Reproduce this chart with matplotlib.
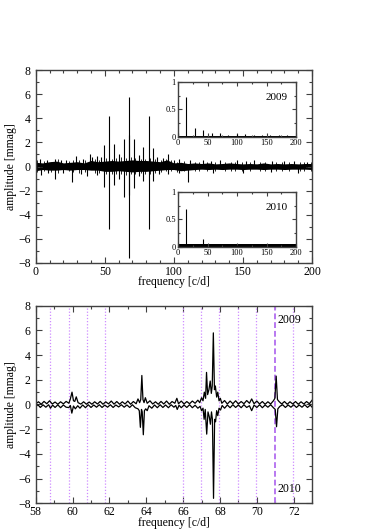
import matplotlib
matplotlib.use('Agg')
import matplotlib.pyplot as plt
from matplotlib.ticker import MultipleLocator

plt.rcParams['font.family'] = 'serif'
plt.rcParams['font.serif'] = ['Liberation Serif', 'DejaVu Serif']

# ---- top panel: full amplitude spectra (2009 up, 2010 mirrored down)
env_freq = list(range(0, 201, 5))
env_2009 = [0.35, 0.30, 0.40, 0.45, 0.30, 0.35, 0.40, 0.30, 0.50, 0.40, 0.45,
            0.50, 0.45, 0.50, 0.55, 0.50, 0.50, 0.45, 0.40, 0.55, 0.30, 0.35,
            0.25, 0.30, 0.25, 0.30, 0.22, 0.25, 0.30, 0.25, 0.22, 0.25, 0.22,
            0.30, 0.22, 0.25, 0.22, 0.25, 0.22, 0.25, 0.25]
env_2010 = [0.35, 0.25, 0.30, 0.30, 0.25, 0.30, 0.25, 0.25, 0.30, 0.30, 0.40,
            0.40, 0.35, 0.40, 0.45, 0.40, 0.40, 0.35, 0.30, 0.25, 0.25, 0.35,
            0.30, 0.25, 0.22, 0.25, 0.22, 0.25, 0.22, 0.22, 0.25, 0.22, 0.22,
            0.25, 0.22, 0.22, 0.25, 0.22, 0.22, 0.22, 0.25]

peaks_2009_f = [3, 8, 14, 18, 22, 29, 34, 39, 41, 44, 47, 49.4, 53.2, 56.9, 60.2,
                63.6, 67.3, 67.6, 70.9, 74.4, 77.6, 81.7, 84.8, 88, 92, 95.8,
                100, 104, 112, 121, 127, 133, 146, 152, 158, 171, 180, 187, 196]
peaks_2009_a = [0.6, 0.5, 0.65, 0.55, 0.5, 0.9, 0.6, 1.05, 0.8, 0.85, 0.8, 1.75,
                4.2, 1.9, 1.0, 2.3, 2.6, 5.8, 2.3, 0.95, 1.65, 4.2, 1.55, 0.8,
                0.7, 1.0, 0.5, 0.6, 0.55, 0.5, 0.45, 0.5, 0.5, 0.45, 0.55, 0.45,
                0.45, 0.45, 0.4]
peaks_2010_f = [4, 9, 14, 20, 26, 33, 37, 44, 49.4, 53.2, 56.9, 60.2, 63.6,
                67.3, 67.6, 70.9, 74.4, 77.6, 81.7, 84.8, 89, 96, 104, 110, 128,
                150, 170, 190]
peaks_2010_a = [0.7, 0.5, 1.0, 0.5, 1.3, 0.6, 0.75, 0.7, 1.7, 5.2, 1.5, 1.0,
                2.5, 2.4, 7.6, 1.8, 0.8, 1.2, 5.2, 1.2, 0.6, 0.6, 0.5, 1.3, 0.5,
                0.5, 0.45, 0.5]
# small noise spikes
spikes_f = [1, 6, 11, 16, 24, 27, 31, 36, 43, 46, 51, 55, 58, 62, 65, 69, 72,
            76, 79, 83, 86, 91, 94, 98, 102, 107, 115, 118, 124, 130, 137, 141,
            144, 149, 155, 162, 166, 174, 178, 183, 191, 194, 199]
spikes_up = [0.5, 0.45, 0.4, 0.6, 0.45, 0.5, 0.5, 0.55, 0.6, 0.55, 0.7, 0.65,
             0.7, 0.75, 0.7, 0.8, 0.7, 0.6, 0.65, 0.7, 0.6, 0.55, 0.6, 0.5,
             0.4, 0.45, 0.4, 0.35, 0.4, 0.35, 0.4, 0.35, 0.4, 0.35, 0.35, 0.4,
             0.35, 0.4, 0.35, 0.35, 0.4, 0.35, 0.4]
spikes_dn = [0.45, 0.4, 0.45, 0.5, 0.4, 0.45, 0.5, 0.45, 0.55, 0.5, 0.6, 0.6,
             0.65, 0.65, 0.7, 0.6, 0.6, 0.55, 0.6, 0.6, 0.5, 0.45, 0.4, 0.4,
             0.45, 0.4, 0.35, 0.4, 0.35, 0.35, 0.4, 0.35, 0.35, 0.4, 0.35, 0.35,
             0.4, 0.35, 0.35, 0.4, 0.35, 0.35, 0.35]

# ---- insets: spectral windows
win_2009_f = [0.5, 14.2, 28.4, 42.6, 56.8, 71.0, 85.2, 99.4, 113.6, 127.8,
              142.0, 156.2, 170.4, 184.6]
win_2009_a = [0.08, 0.72, 0.17, 0.12, 0.07, 0.07, 0.04, 0.05, 0.05, 0.03,
              0.03, 0.03, 0.03, 0.03]
win_2009_base = 0.02
win_2010_f = [0.5, 14.2, 28.4, 42.6, 56.8, 71.0, 99.4, 127.8, 156.2]
win_2010_a = [0.06, 0.68, 0.06, 0.15, 0.05, 0.05, 0.04, 0.04, 0.04]
win_2010_base = 0.045

# ---- bottom panel: zoom 58-73 c/d
z09_f = [58.00, 58.15, 58.30, 58.45, 58.60, 58.75, 58.90, 59.05, 59.20, 59.35,
         59.50, 59.65, 59.80, 59.88, 59.97, 60.05, 60.12, 60.20, 60.30, 60.45,
         60.60, 60.75, 60.90, 61.05, 61.20, 61.35, 61.50, 61.65, 61.80, 61.95,
         62.10, 62.25, 62.40, 62.55, 62.70, 62.85, 63.00, 63.15, 63.30, 63.45,
         63.55, 63.64, 63.70, 63.76, 63.82, 63.88, 63.95, 64.05, 64.20, 64.35,
         64.50, 64.65, 64.80, 64.95, 65.10, 65.25, 65.40, 65.55, 65.66, 65.75,
         65.90, 66.05, 66.20, 66.35, 66.50, 66.65, 66.80, 66.90, 67.00, 67.08,
         67.15, 67.22, 67.27, 67.33, 67.40, 67.47, 67.53, 67.58, 67.64, 67.70,
         67.75, 67.82, 67.88, 67.95, 68.02, 68.10, 68.25, 68.40, 68.55, 68.70,
         68.85, 69.00, 69.15, 69.30, 69.45, 69.60, 69.72, 69.85, 70.00, 70.15,
         70.30, 70.45, 70.60, 70.75, 70.90, 70.98, 71.05, 71.12, 71.20, 71.35,
         71.50, 71.65, 71.80, 71.95, 72.10, 72.25, 72.40, 72.55, 72.70, 72.85,
         73.00]
z09_a = [0.05, 0.22, 0.02, 0.25, 0.06, 0.30, 0.04, 0.20, 0.02, 0.22,
         0.05, 0.25, 0.10, 0.45, 1.00, 0.30, 0.25, 0.62, 0.15, 0.03,
         0.22, 0.02, 0.20, 0.02, 0.22, 0.04, 0.25, 0.02, 0.22, 0.05,
         0.28, 0.03, 0.24, 0.02, 0.22, 0.04, 0.28, 0.02, 0.24, 0.06,
         0.45, 0.15, 0.40, 2.35, 0.40, 0.15, 0.55, 0.10, 0.30, 0.04,
         0.22, 0.02, 0.25, 0.04, 0.28, 0.02, 0.24, 0.10, 0.50, 0.06,
         0.28, 0.04, 0.24, 0.06, 0.28, 0.10, 0.35, 0.15, 0.55, 0.30,
         1.00, 0.50, 2.60, 0.80, 1.20, 1.90, 0.90, 1.50, 5.80, 1.20,
         1.50, 0.60, 1.00, 0.30, 0.50, 0.10, 0.32, 0.04, 0.28, 0.06,
         0.30, 0.04, 0.24, 0.06, 0.32, 0.10, 0.45, 0.06, 0.28, 0.04,
         0.24, 0.02, 0.22, 0.04, 0.30, 0.50, 2.30, 0.40, 0.25, 0.04,
         0.24, 0.02, 0.22, 0.04, 0.24, 0.02, 0.22, 0.04, 0.24, 0.06,
         0.35]
z10_f = [58.00, 58.12, 58.25, 58.40, 58.55, 58.70, 58.80, 58.92, 59.05, 59.20,
         59.35, 59.50, 59.65, 59.80, 59.88, 59.96, 60.05, 60.15, 60.28, 60.40,
         60.55, 60.70, 60.85, 61.00, 61.15, 61.30, 61.45, 61.60, 61.75, 61.90,
         62.05, 62.20, 62.35, 62.50, 62.65, 62.80, 62.95, 63.10, 63.25, 63.40,
         63.55, 63.62, 63.68, 63.74, 63.78, 63.84, 63.90, 63.97, 64.05, 64.15,
         64.30, 64.45, 64.60, 64.75, 64.90, 65.05, 65.20, 65.35, 65.50, 65.60,
         65.68, 65.78, 65.90, 66.05, 66.20, 66.35, 66.50, 66.65, 66.80, 66.92,
         67.00, 67.08, 67.14, 67.20, 67.28, 67.35, 67.42, 67.48, 67.54, 67.59,
         67.65, 67.71, 67.76, 67.82, 67.88, 67.95, 68.03, 68.12, 68.25, 68.40,
         68.55, 68.70, 68.85, 69.00, 69.15, 69.30, 69.45, 69.60, 69.72, 69.85,
         70.00, 70.15, 70.30, 70.45, 70.60, 70.75, 70.90, 71.00, 71.07, 71.14,
         71.25, 71.40, 71.55, 71.70, 71.85, 72.00, 72.15, 72.30, 72.45, 72.60,
         72.75, 72.90, 73.00]
z10_a = [0.18, 0.02, 0.24, 0.03, 0.22, 0.02, 0.30, 0.05, 0.24, 0.03,
         0.26, 0.04, 0.22, 0.25, 0.08, 0.70, 0.12, 0.35, 0.10, 0.30,
         0.04, 0.26, 0.02, 0.24, 0.04, 0.22, 0.02, 0.24, 0.05, 0.22,
         0.02, 0.24, 0.04, 0.20, 0.02, 0.22, 0.04, 0.24, 0.02, 0.26,
         0.35, 0.50, 1.85, 0.40, 0.60, 2.45, 0.50, 0.35, 0.50, 0.10,
         0.30, 0.04, 0.26, 0.02, 0.24, 0.04, 0.26, 0.02, 0.22, 0.08,
         0.40, 0.06, 0.26, 0.04, 0.24, 0.02, 0.26, 0.06, 0.30, 0.15,
         0.50, 0.30, 1.20, 0.40, 2.40, 0.60, 1.00, 1.60, 0.60, 1.20,
         7.60, 1.20, 1.40, 0.50, 0.90, 0.30, 0.45, 0.08, 0.30, 0.04,
         0.26, 0.02, 0.24, 0.04, 0.26, 0.02, 0.24, 0.10, 0.50, 0.05,
         0.24, 0.02, 0.26, 0.04, 0.22, 0.02, 0.26, 0.40, 1.80, 0.35,
         0.15, 0.02, 0.24, 0.04, 0.22, 0.02, 0.24, 0.04, 0.22, 0.02,
         0.24, 0.05, 0.22]
combo_dotted = [58.78, 59.78, 60.78, 61.78, 65.97, 66.97, 67.97, 68.97, 69.97, 71.97]
combo_dashed = [70.97]

frame_col = '0.25'


def style_axes(ax, size=8.5, major=4, minor=2):
    for sp in ax.spines.values():
        sp.set_color(frame_col)
        sp.set_linewidth(1.0)
    ax.tick_params(which='both', direction='in', top=True, right=True,
                   colors=frame_col, labelcolor='black', labelsize=size)
    ax.tick_params(which='major', length=major, width=0.8)
    ax.tick_params(which='minor', length=minor, width=0.8)


fig = plt.figure(figsize=(3.74, 5.30), dpi=100)

# top panel
ax1 = fig.add_axes([0.0955, 0.5038, 0.739, 0.364])
ax1.fill_between(env_freq, env_2009, [-v for v in env_2010], color='black', lw=0)
ax1.vlines(spikes_f, [-v for v in spikes_dn], spikes_up, color='black', lw=0.6)
ax1.vlines(peaks_2009_f, 0, peaks_2009_a, color='black', lw=0.8)
ax1.vlines(peaks_2010_f, [-v for v in peaks_2010_a], 0, color='black', lw=0.8)
ax1.set_xlim(0, 200)
ax1.set_ylim(-8, 8)
ax1.xaxis.set_major_locator(MultipleLocator(50))
ax1.xaxis.set_minor_locator(MultipleLocator(10))
ax1.yaxis.set_major_locator(MultipleLocator(2))
ax1.yaxis.set_minor_locator(MultipleLocator(1))
ax1.set_xlabel('frequency [c/d]', fontsize=8.5, labelpad=-1)
ax1.set_ylabel('amplitude [mmag]', fontsize=8.5, labelpad=1)
style_axes(ax1)
ax1.tick_params(axis='x', pad=2)

# insets
for rect, wf, wa, base, label in [
        ([0.476, 0.7415, 0.316, 0.1038], win_2009_f, win_2009_a, win_2009_base, '2009'),
        ([0.476, 0.534, 0.316, 0.104], win_2010_f, win_2010_a, win_2010_base, '2010')]:
    axi = fig.add_axes(rect)
    axi.fill_between([0, 200], [base, base], 0, color='black', lw=0)
    axi.vlines(wf, 0, wa, color='black', lw=0.8)
    axi.set_xlim(0, 200)
    axi.set_ylim(0, 1)
    axi.xaxis.set_major_locator(MultipleLocator(50))
    axi.xaxis.set_minor_locator(MultipleLocator(25))
    axi.yaxis.set_major_locator(MultipleLocator(0.5))
    axi.yaxis.set_minor_locator(MultipleLocator(0.25))
    axi.yaxis.set_major_formatter(plt.FuncFormatter(lambda v, p: '%g' % v))
    style_axes(axi, size=6, major=3, minor=1.5)
    axi.tick_params(pad=1.5)
    axi.text(0.93, 0.72, label, transform=axi.transAxes, ha='right', va='center',
             fontsize=8)

# bottom panel
ax2 = fig.add_axes([0.0955, 0.0504, 0.739, 0.3728])
for x in combo_dotted:
    ax2.axvline(x, color='#cf8cff', lw=0.9, ls=(0, (1, 1.5)))
for x in combo_dashed:
    ax2.axvline(x, color='#b878f0', lw=1.4, ls=(0, (3, 1.5)))
ax2.plot(z09_f, z09_a, color='black', lw=0.9)
ax2.plot(z10_f, [-v for v in z10_a], color='black', lw=0.9)
ax2.set_xlim(58, 73)
ax2.set_ylim(-8, 8)
ax2.xaxis.set_major_locator(MultipleLocator(2))
ax2.xaxis.set_minor_locator(MultipleLocator(1))
ax2.yaxis.set_major_locator(MultipleLocator(2))
ax2.yaxis.set_minor_locator(MultipleLocator(1))
ax2.set_xlabel('frequency [c/d]', fontsize=8.5, labelpad=-1)
ax2.set_ylabel('amplitude [mmag]', fontsize=8.5, labelpad=1)
style_axes(ax2)
ax2.tick_params(axis='x', pad=2)
ax2.text(0.96, 0.93, '2009', transform=ax2.transAxes, ha='right', va='center',
         fontsize=8.5)
ax2.text(0.96, 0.07, '2010', transform=ax2.transAxes, ha='right', va='center',
         fontsize=8.5)

fig.savefig('out.png', dpi=100)
